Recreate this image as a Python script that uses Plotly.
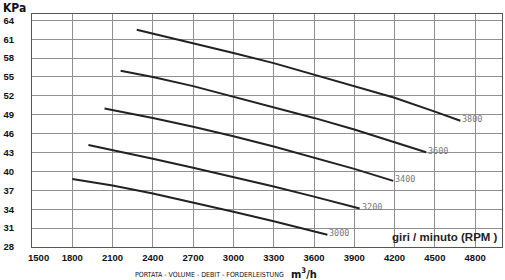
import plotly.graph_objects as go

# ---- data ----
rpm_labels = ["3000", "3200", "3400", "3600", "3800"]
flow_3000 = [1800, 2100, 2400, 2700, 3000, 3300, 3600, 3700]
kpa_3000 = [38.8, 37.75, 36.5, 35.1, 33.6, 32.1, 30.5, 29.95]
flow_3200 = [1920, 2100, 2400, 2700, 3000, 3300, 3600, 3940]
kpa_3200 = [44.2, 43.4, 42.0, 40.6, 39.15, 37.6, 36.0, 34.1]
flow_3400 = [2040, 2400, 2700, 3000, 3300, 3600, 3900, 4190]
kpa_3400 = [50.0, 48.5, 47.1, 45.6, 43.95, 42.2, 40.4, 38.5]
flow_3600 = [2160, 2400, 2700, 3000, 3300, 3600, 3900, 4200, 4435]
kpa_3600 = [56.0, 55.0, 53.55, 51.9, 50.2, 48.5, 46.65, 44.65, 43.05]
flow_3800 = [2280, 2400, 2700, 3000, 3300, 3600, 3900, 4200, 4500, 4690]
kpa_3800 = [62.5, 61.9, 60.4, 58.8, 57.2, 55.4, 53.6, 51.7, 49.5, 48.05]

x_ticks = [1500, 1800, 2100, 2400, 2700, 3000, 3300, 3600, 3900, 4200, 4500, 4800]
x_tick_text = ["\u00a0\u00a0\u00a0\u00a0\u00a01500", "1800", "2100", "2400", "2700", "3000",
               "3300", "3600", "3900", "4200", "4500", "4800"]
y_ticks = [28, 31, 34, 37, 40, 43, 46, 49, 52, 55, 58, 61, 64]

series = [
    (flow_3000, kpa_3000),
    (flow_3200, kpa_3200),
    (flow_3400, kpa_3400),
    (flow_3600, kpa_3600),
    (flow_3800, kpa_3800),
]

fig = go.Figure()
for (xs, ys), lab in zip(series, rpm_labels):
    fig.add_trace(go.Scatter(
        x=xs, y=ys, mode="lines", name=lab,
        line=dict(color="#222222", width=2),
        hoverinfo="skip", showlegend=False,
    ))
    fig.add_annotation(
        x=xs[-1], y=ys[-1], text=lab, showarrow=False,
        xanchor="left", yanchor="middle", xshift=0, yshift=1.5,
        font=dict(family="DejaVu Sans Mono", size=8.5, color="#7a7a7a"),
    )

tick_font = dict(family="Liberation Sans, Arial", size=9.5, color="#111111", weight=700)

fig.update_xaxes(
    range=[1500, 5000], tickvals=x_ticks, ticktext=x_tick_text,
    showgrid=True, gridcolor="#8f8f8f", gridwidth=1,
    showline=True, linecolor="#555555", linewidth=1, mirror=True,
    ticks="", tickfont=tick_font, ticklabelstandoff=2, zeroline=False,
)
fig.update_yaxes(
    range=[28, 65], tickvals=y_ticks, ticktext=[str(v) for v in y_ticks],
    showgrid=True, gridcolor="#8f8f8f", gridwidth=1,
    showline=True, linecolor="#555555", linewidth=1, mirror=True,
    ticks="", tickfont=tick_font, ticklabelstandoff=15, zeroline=False,
)

fig.add_annotation(
    xref="paper", yref="paper", x=-0.066, y=1.0, xanchor="left", yanchor="bottom",
    text="KPa", showarrow=False, yshift=-3,
    font=dict(family="DejaVu Sans Condensed, Liberation Sans", size=12, color="#111111", weight=700),
)
fig.add_annotation(
    xref="paper", yref="paper", x=0.995, y=0.01, xanchor="right", yanchor="bottom",
    text="giri / minuto (RPM )", showarrow=False,
    font=dict(family="Liberation Sans, Arial", size=11.5, color="#222222", weight=700),
)
fig.add_annotation(
    xref="paper", yref="paper", x=0.54, y=-0.095, xanchor="right", yanchor="top",
    text="PORTATA - VOLUME - DEBIT - FORDERLEISTUNG", showarrow=False,
    font=dict(family="DejaVu Sans Condensed, Liberation Sans", size=7, color="#111111"),
)
fig.add_annotation(
    xref="paper", yref="paper", x=0.547, y=-0.075, xanchor="left", yanchor="top",
    text="m<sup>3</sup>/h", showarrow=False,
    font=dict(family="DejaVu Sans Condensed, Liberation Sans", size=11, color="#111111", weight=700),
)

fig.update_layout(
    width=505, height=280,
    margin=dict(l=32, r=3, t=14, b=33),
    paper_bgcolor="white", plot_bgcolor="white",
)

fig.write_html("out.html")
